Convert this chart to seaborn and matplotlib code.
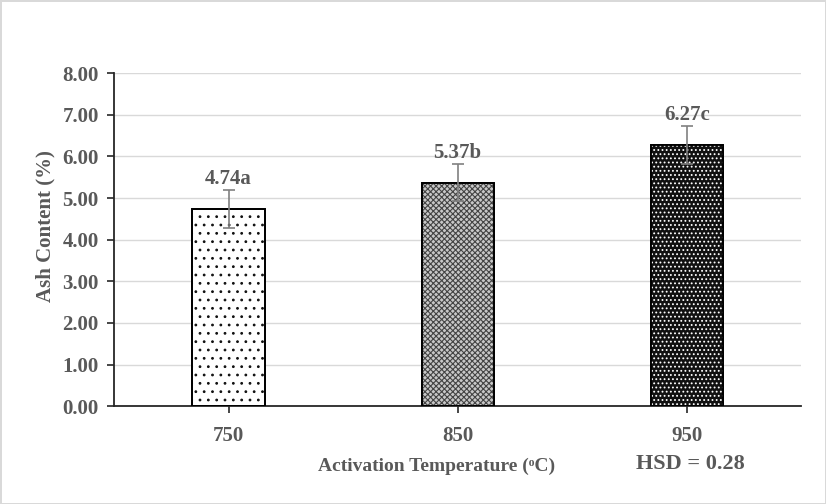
import matplotlib
matplotlib.use("Agg")
import matplotlib.pyplot as plt
from matplotlib.patches import Rectangle
import seaborn as sns
import pandas as pd
import numpy as np

categories = ["750", "850", "950"]
ash_content = [4.74, 5.37, 6.27]
errors = [0.45, 0.45, 0.45]
letters = ["a", "b", "c"]
y_ticks = [0, 1, 2, 3, 4, 5, 6, 7, 8]

sns.set_theme(style="white")
plt.rcParams['font.family'] = ['Liberation Serif', 'DejaVu Serif']
plt.rcParams['font.weight'] = 'bold'
plt.rcParams['hatch.linewidth'] = 0.8

TXT = '#595959'
df = pd.DataFrame({"temp": categories, "ash": ash_content})

fig = plt.figure(figsize=(8.26, 5.04), dpi=100)
fig.patch.set_edgecolor('#d9d9d9')
fig.patch.set_linewidth(2)
ax = fig.add_axes([0.138, 0.194, 0.832, 0.661])

sns.barplot(data=df, x="temp", y="ash", ax=ax, width=0.315, errorbar=None,
            color='white', edgecolor='black', linewidth=1.3, zorder=3)

styles = [('white', '..', '#111111'), ('#c8c8c8', 'xxxxxx', '#444444'), ('#111111', '....', 'white')]
for patch, (fc, hatch, hc) in zip(ax.patches, styles):
    patch.set_facecolor(fc)
    patch.set_edgecolor('black')
    patch.set_zorder(3)
    ov = Rectangle(patch.get_xy(), patch.get_width(), patch.get_height(),
                   fill=False, edgecolor=hc, linewidth=0, hatch=hatch, zorder=3.2)
    ax.add_patch(ov)
    outline = Rectangle(patch.get_xy(), patch.get_width(), patch.get_height(),
                        fill=False, edgecolor='black', linewidth=1.3, zorder=3.4)
    ax.add_patch(outline)

xs = np.arange(len(categories))
ax.errorbar(xs, ash_content, yerr=errors, fmt='none', ecolor='#808080',
            elinewidth=1.2, capsize=4.5, capthick=1.2, zorder=4)

for x, v, e, l in zip(xs, ash_content, errors, letters):
    ax.text(x, v + e + 0.03, f"{v:.2f}{l}", ha='center', va='bottom',
            fontsize=15, fontweight='bold', color=TXT)

ax.set_ylim(0, 8)
ax.set_xlim(-0.5, 2.5)
ax.set_yticks(y_ticks)
ax.set_yticklabels([f"{t:.2f}" for t in y_ticks])
ax.yaxis.grid(True, color='#d9d9d9', linewidth=1)
ax.set_axisbelow(True)
for s in ['top', 'right']:
    ax.spines[s].set_visible(False)
for s in ['left', 'bottom']:
    ax.spines[s].set_color('#262626')
    ax.spines[s].set_linewidth(1.3)
ax.tick_params(axis='both', which='both', direction='out', length=5, width=1.2,
               color='#262626', labelsize=15, labelcolor=TXT, bottom=True, left=True)
ax.tick_params(axis='y', pad=6)
ax.tick_params(axis='x', pad=9)
for lbl in ax.get_xticklabels() + ax.get_yticklabels():
    lbl.set_fontweight('bold')

ax.set_ylabel("Ash Content (%)", fontsize=15, fontweight='bold', color=TXT)
ax.yaxis.set_label_coords(-0.085, 0.54)
ax.set_xlabel("Activation Temperature (\u1d52C)", fontsize=14, fontweight='bold', color=TXT)
ax.xaxis.set_label_coords(0.469, -0.155)
fig.text(0.836, 0.079, "HSD = 0.28", fontsize=16, fontweight='bold', color=TXT,
         ha='center', va='center')

fig.savefig("out.png", dpi=100)
